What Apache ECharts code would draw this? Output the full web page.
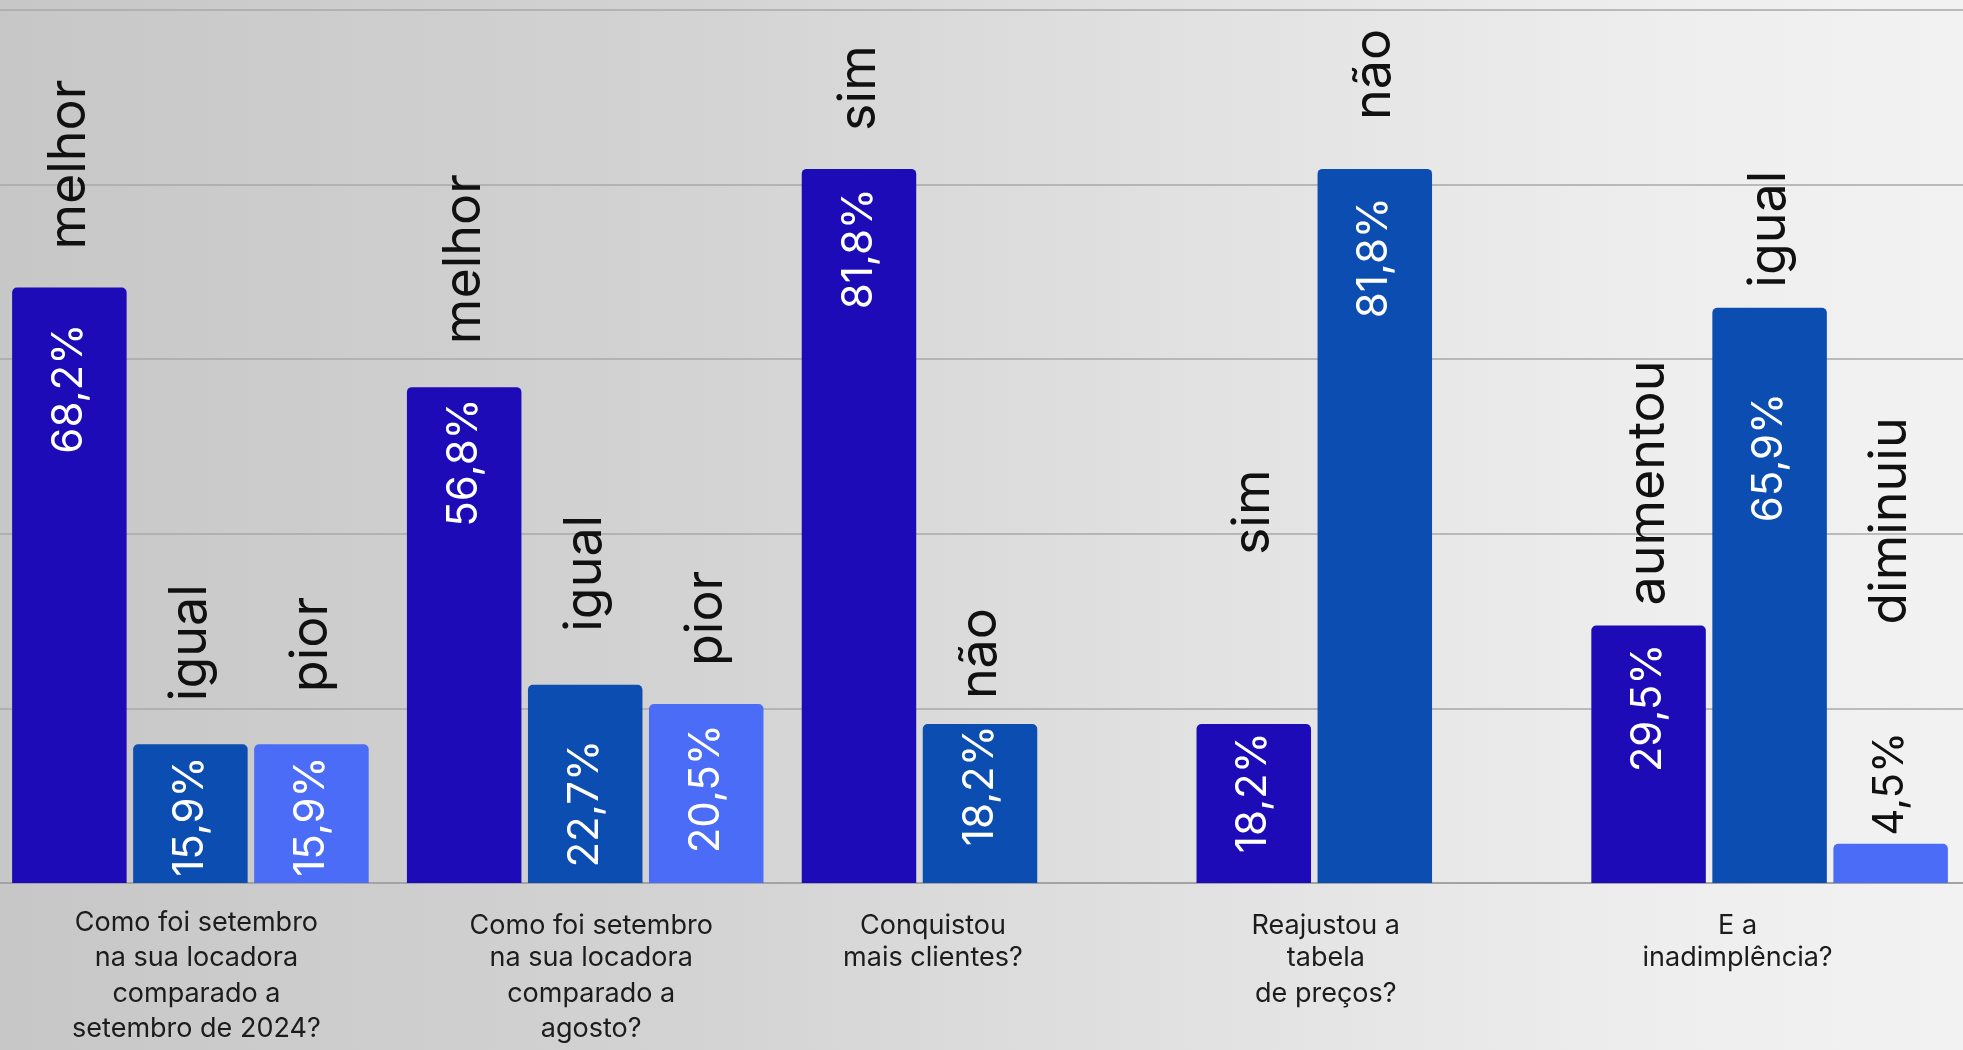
<!DOCTYPE html>
<html>
<head>
<meta charset="utf-8">
<script src="https://cdn.jsdelivr.net/npm/echarts@6/dist/echarts.min.js"></script>
<style>
  html, body { margin: 0; padding: 0; }
  #chart { width: 1963px; height: 1050px; }
</style>
</head>
<body>
<div id="chart"></div>
<script>
// questions (x categories)
const questions = [
  'Como foi setembro\nna sua locadora\ncomparado a\nsetembro de 2024?',
  'Como foi setembro\nna sua locadora\ncomparado a\nagosto?',
  'Conquistou\nmais clientes?',
  'Reajustou a\ntabela\nde preços?',
  'E a\ninadimplência?'
];

// answers, one list per bar position in the group
const answers1 = ['melhor', 'melhor', 'sim', 'sim', 'aumentou'];
const answers2 = ['igual', 'igual', 'não', 'não', 'igual'];
const answers3 = ['pior', 'pior', '', '', 'diminuiu'];

// percentages
const values1 = [68.2, 56.8, 81.8, 18.2, 29.5];
const values2 = [15.9, 22.7, 18.2, 81.8, 65.9];
const values3 = [15.9, 20.5, '-', '-', 4.5];

// label placement (px from bar top): value inside, answer above
const valueGap = [[36, 11, 19, 8, 18], [12, 55, 1, 28, 85], [12, 20, 0, 0, -8]];
const nameGap = [[38, 43, 38, 169, 20], [43, 53, 25, 49, 20], [52, 38, 0, 0, 219]];
const labelShift = [6, 6, -47, -49, -32];
const labelDrop = [0, 7, 7, 7, 7];

const colors = ['#1c0bb6', '#0b4db0', '#4b6cf6'];
const FONT = 'Inter';

const chart = echarts.init(document.getElementById('chart'));

function pct(v) {
  return v.toFixed(1).replace('.', ',') + '%';
}

const allValues = [values1, values2, values3];
const allNames = [answers1, answers2, answers3];

const series = [];
allValues.forEach((vals, s) => {
  // the bar with its percentage
  series.push({
    type: 'bar',
    stack: 's' + s,
    barWidth: 114.5,
    barGap: '5.7%',
    itemStyle: { color: colors[s], borderRadius: [5, 5, 0, 0] },
    data: vals.map((v, i) => {
      if (v === '-') return '-';
      const g = valueGap[s][i];
      return {
        value: v,
        label: {
          show: true,
          formatter: pct(v),
          rotate: 90,
          position: ['50%', g],
          align: g < 0 ? 'left' : 'right',
          verticalAlign: 'middle',
          color: g < 0 ? '#111' : '#fff',
          fontFamily: FONT,
          fontSize: 42
        }
      };
    })
  });
  // answer text sitting on top of the bar
  series.push({
    type: 'bar',
    stack: 's' + s,
    barWidth: 114.5,
    barGap: '5.7%',
    itemStyle: { color: 'transparent' },
    silent: true,
    data: vals.map((v, i) => {
      if (v === '-') return '-';
      return {
        value: 0,
        label: {
          show: true,
          formatter: allNames[s][i],
          rotate: 90,
          position: ['50%', -nameGap[s][i]],
          align: 'left',
          verticalAlign: 'middle',
          color: '#111',
          fontFamily: FONT,
          fontSize: 52
        }
      };
    })
  });
});

const rich = {};
questions.forEach((q, i) => {
  const sh = labelShift[i];
  const left = sh > 0 ? 2 * sh : 0;
  const right = sh < 0 ? -2 * sh : 0;
  const base = { fontFamily: FONT, fontSize: 27, color: '#1c1c1c', lineHeight: 35.5 };
  rich['f' + i] = Object.assign({ padding: [labelDrop[i], right, 0, left] }, base);
  rich['r' + i] = Object.assign({ padding: [0, right, 0, left] }, base);
});

const option = {
  backgroundColor: {
    type: 'linear', x: 0, y: 0, x2: 1, y2: 0,
    colorStops: [
      { offset: 0, color: '#c7c7c7' },
      { offset: 0.35, color: '#d3d3d3' },
      { offset: 0.6, color: '#e1e1e1' },
      { offset: 0.85, color: '#eeeeee' },
      { offset: 1, color: '#f2f2f2' }
    ]
  },
  animation: false,
  grid: { left: -7, right: -4, top: 10, bottom: 167, outerBoundsMode: 'none' },
  xAxis: {
    type: 'category',
    data: questions,
    axisTick: { show: false },
    axisLine: { lineStyle: { color: '#a3a3a3', width: 2 } },
    axisLabel: {
      interval: 0,
      margin: 22,
      formatter: (value, index) =>
        value.split('\n').map((line, j) => '{' + (j === 0 ? 'f' : 'r') + index + '|' + line + '}').join('\n'),
      rich: rich
    }
  },
  yAxis: {
    type: 'value',
    min: 0,
    max: 100,
    interval: 20,
    axisLabel: { show: false },
    axisLine: { show: false },
    axisTick: { show: false },
    splitLine: { lineStyle: { color: '#a8a8a8', width: 1.5 } }
  },
  series: series
};

chart.setOption(option);
</script>
</body>
</html>
